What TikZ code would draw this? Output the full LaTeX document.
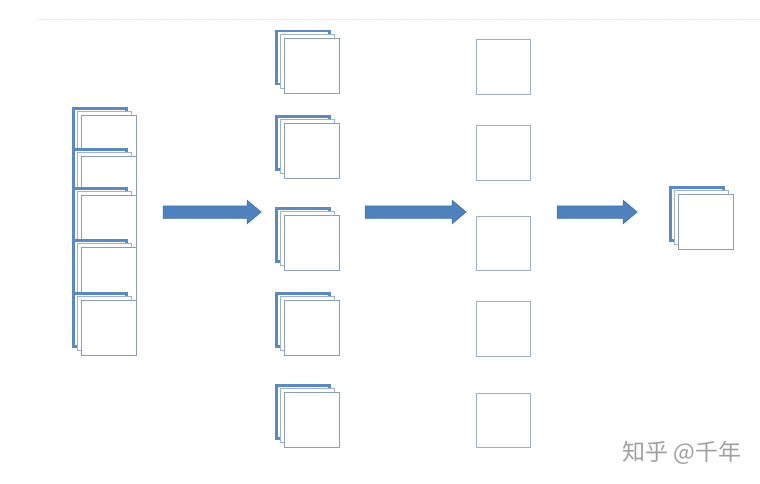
\documentclass[tikz,border=0pt]{standalone}
\usepackage{fontspec}
\usetikzlibrary{shapes.arrows}
\newfontfamily\cjk{Noto Sans CJK SC}
\definecolor{sheetblue}{HTML}{5B89C0}
\definecolor{midedge}{HTML}{9DB3D6}
\definecolor{frontedge}{HTML}{8C9DB5}
\definecolor{plateedge}{HTML}{A0AEC0}
\definecolor{arrowfill}{HTML}{4F81BD}
\definecolor{arrowedge}{HTML}{41719C}
\definecolor{rulegray}{HTML}{E2E2E2}
\definecolor{markgray}{HTML}{A0A0A0}

\begin{document}
\begin{tikzpicture}[
  x=1pt,y=-1pt,
  backsheet/.style={draw=sheetblue,fill=white,line width=2.6pt,
    minimum size=53pt,inner sep=0pt,outer sep=0pt},
  midsheet/.style={draw=midedge,fill=white,line width=0.7pt,
    minimum size=54pt,inner sep=0pt,outer sep=0pt},
  frontsheet/.style={draw=frontedge,fill=white,line width=0.7pt,
    minimum size=55pt,inner sep=0pt,outer sep=0pt},
  plate/.style={draw=plateedge,fill=white,line width=0.7pt,
    minimum size=54.5pt,inner sep=0pt,outer sep=0pt},
  blockarrow/.style={single arrow,draw=arrowedge,fill=arrowfill,
    line width=0.5pt,inner xsep=0pt,inner ysep=6pt,
    single arrow head extend=5.5pt,single arrow tip angle=80,
    shape border uses incircle=false},
  sheets/.pic={
    \node[backsheet] (-back) at (0,0) {};
    \node[midsheet] (-mid) at (4.5,3.5) {};
    \node[frontsheet] (-front) at (9,8) {};
  }
]
\useasboundingbox (0,0) rectangle (760,484);
\draw[rulegray,dashed,dash pattern=on 2pt off 1pt,line width=0.6pt]
  (37,19) -- (760,19);

% input column
\pic (in1) at (100,135) {sheets};
\pic (in2) at (100,176) {sheets};
\pic (in3) at (100,215) {sheets};
\pic (in4) at (100,267) {sheets};
\pic (in5) at (100,320) {sheets};

% split column
\pic (sp1) at (303,57.5) {sheets};
\pic (sp2) at (303,143) {sheets};
\pic (sp3) at (303,235) {sheets};
\pic (sp4) at (303,320) {sheets};
\pic (sp5) at (303,412) {sheets};

% single maps
\node[plate] (one1) at (503.3,67) {};
\node[plate] (one2) at (503.3,153) {};
\node[plate] (one3) at (503.3,243.5) {};
\node[plate] (one4) at (503.3,329) {};
\node[plate] (one5) at (503.3,420.5) {};

% output
\pic (out) at (697,214) {sheets};

\node[blockarrow,minimum height=98pt] (go1) at (208.5,212) {};
\node[blockarrow,minimum height=101pt] (go2) at (412,212) {};
\node[blockarrow,minimum height=80pt] (go3) at (593.5,212) {};

\node[font=\cjk\fontsize{23}{25}\selectfont,text=markgray] (mark)
  at (682,453) {知乎 @千年};
\end{tikzpicture}
\end{document}
